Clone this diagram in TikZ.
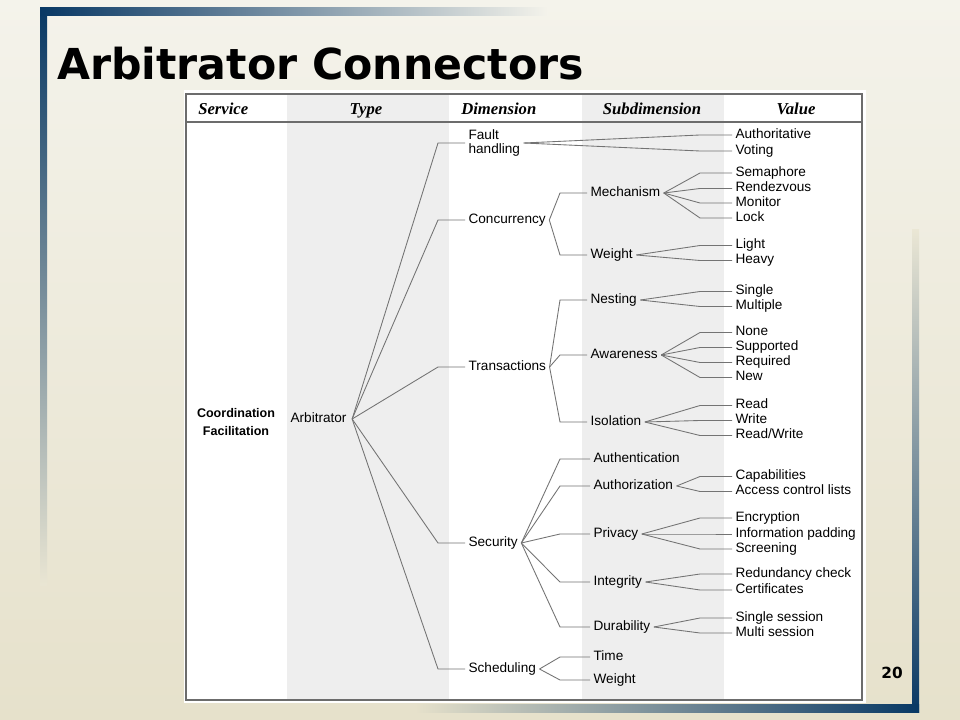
\documentclass[tikz,border=0pt]{standalone}
\usepackage{fontspec}
\setmainfont{Liberation Sans}
\newfontfamily\headfont{Liberation Serif}
\newfontfamily\titlefont{DejaVu Sans}
\usepackage{tikz}
\usetikzlibrary{calc}
\usepackage{xcolor}
\definecolor{bgtop}{RGB}{244,243,235}
\definecolor{bgbot}{RGB}{230,225,203}
\definecolor{navy}{RGB}{8,56,100}
\definecolor{colgray}{RGB}{238,238,238}
\definecolor{linegray}{RGB}{115,115,115}

\begin{document}
\begin{tikzpicture}[x=0.75pt, y=-0.75pt]
        % ================= styles =================
        \tikzset{
            % plain label of the tree
            any_text/.style={inner xsep=2.5pt, inner ysep=1pt, text height=7.4pt, text depth=2.2pt, font=\fontsize{10.2}{10.5}\selectfont},
            dnode/.style={any_text, anchor=west},
            % two line label (Fault handling)
            twoline/.style={inner xsep=2.5pt, inner ysep=1pt, align=left, anchor=west, font=\fontsize{10.2}{10.5}\selectfont},
            % column headers
            head_text/.style={inner sep=0pt, font=\headfont\bfseries\itshape\fontsize{12.5}{14}\selectfont},
            % connectors and table rules
            tree_edge/.style={draw=linegray, line width=0.65pt},
            table_line/.style={draw=gray!85!black, line width=0.8pt}
        }

        % ================= background and frame =================
        \useasboundingbox (0,0) rectangle (960,720);
        \shade[top color=bgtop, bottom color=bgbot] (0,0) rectangle (960,720);
        \shade[top color=navy, bottom color=bgbot!75!bgtop] (40,8) rectangle (47,585);
        \shade[left color=navy, right color=bgtop] (40,8) rectangle (548,16);
        \shade[top color=bgtop!30!bgbot, bottom color=navy] (912,230) rectangle (919,712);
        \shade[left color=bgbot, right color=navy] (415,704) rectangle (919,712);

        % title and page number
        \node[anchor=base west, inner sep=0pt, font=\titlefont\bfseries\fontsize{32}{34}\selectfont] (title) at (57,80) {Arbitrator Connectors};
        \node[anchor=base, inner sep=0pt, font=\titlefont\bfseries\fontsize{11.5}{12}\selectfont] (pagenum) at (892,678) {20};

        % ================= table =================
        \fill[white] (184,90) rectangle (866,703);
        \fill[colgray] (287,94) rectangle (449,700);
        \fill[colgray] (582,94) rectangle (724,700);
        \draw[table_line] (186,94) rectangle (862,700);
        \draw[table_line] (186,122) -- (862,122);

        \node[head_text, anchor=base west] (h_service) at (198,115) {Service};
        \node[head_text, anchor=base] (h_type) at (366,115) {Type};
        \node[head_text, anchor=base west] (h_dim) at (461,115) {Dimension};
        \node[head_text, anchor=base] (h_subdim) at (652,115) {Subdimension};
        \node[head_text, anchor=base] (h_value) at (796,115) {Value};

        % ================= nodes =================
        \node[align=center, inner sep=0pt, font=\bfseries\fontsize{9.4}{13.5}\selectfont] (service) at (236,422) {Coordination\\Facilitation};
        \node[dnode, inner xsep=4pt] (arb) at (285,419) {Arbitrator};

        % dimension
        \node[twoline] (fault) at (465,143) {Fault\\handling};
        \node[dnode] (conc) at (465,220) {Concurrency};
        \node[dnode] (trans) at (465,367) {Transactions};
        \node[dnode] (sec) at (465,543) {Security};
        \node[dnode] (sched) at (465,669) {Scheduling};

        % subdimension
        \node[dnode] (mech) at (587,193) {Mechanism};
        \node[dnode] (cweight) at (587,255) {Weight};
        \node[dnode] (nest) at (587,300) {Nesting};
        \node[dnode] (aware) at (587,355) {Awareness};
        \node[dnode] (isol) at (587,422) {Isolation};
        \node[dnode] (authn) at (590,459) {Authentication};
        \node[dnode] (authz) at (590,486) {Authorization};
        \node[dnode] (priv) at (590,534) {Privacy};
        \node[dnode] (integ) at (590,582) {Integrity};
        \node[dnode] (dura) at (590,627) {Durability};
        \node[dnode] (time) at (590,657) {Time};
        \node[dnode] (sweight) at (590,680) {Weight};

        % value
        \node[dnode] (auth) at (732,135) {Authoritative};
        \node[dnode] (vote) at (732,151) {Voting};
        \node[dnode] (sema) at (732,173) {Semaphore};
        \node[dnode] (rend) at (732,188.5) {Rendezvous};
        \node[dnode] (moni) at (732,203) {Monitor};
        \node[dnode] (lock) at (732,218) {Lock};
        \node[dnode] (light) at (732,245.5) {Light};
        \node[dnode] (heavy) at (732,260.5) {Heavy};
        \node[dnode] (single) at (732,291.5) {Single};
        \node[dnode] (multi) at (732,306.5) {Multiple};
        \node[dnode] (none) at (732,332.5) {None};
        \node[dnode] (supp) at (732,347.5) {Supported};
        \node[dnode] (requ) at (732,362.5) {Required};
        \node[dnode] (new) at (732,377.5) {New};
        \node[dnode] (read) at (732,405.5) {Read};
        \node[dnode] (write) at (732,420.5) {Write};
        \node[dnode] (rw) at (732,435.5) {Read/Write};
        \node[dnode] (capa) at (732,476.5) {Capabilities};
        \node[dnode] (acl) at (732,491.5) {Access control lists};
        \node[dnode] (encr) at (732,518) {Encryption};
        \node[dnode] (info) at (732,534) {Information padding};
        \node[dnode] (scre) at (732,549) {Screening};
        \node[dnode] (redu) at (732,574) {Redundancy check};
        \node[dnode] (cert) at (732,590) {Certificates};
        \node[dnode] (ssess) at (732,618) {Single session};
        \node[dnode] (msess) at (732,633) {Multi session};

        % ================= connectors =================
        \coordinate (col1) at (438,0);
        \coordinate (col2) at (560,0);
        \coordinate (col3) at (700,0);

        \foreach \d in {fault,conc,trans,sec,sched}
            \draw[tree_edge] (arb.east) -- (col1 |- \d.west) -- (\d.west);

        \foreach \p/\kids in {conc/{mech,cweight}, trans/{nest,aware,isol}, sec/{authn,authz,priv,integ,dura}, sched/{time,sweight}}
            \foreach \k in \kids
                \draw[tree_edge] (\p.east) -- (col2 |- \k.west) -- (\k.west);

        \foreach \p/\kids in {fault/{auth,vote}, mech/{sema,rend,moni,lock}, cweight/{light,heavy}, nest/{single,multi}, aware/{none,supp,requ,new}, isol/{read,write,rw}, authz/{capa,acl}, priv/{encr,info,scre}, integ/{redu,cert}, dura/{ssess,msess}}
            \foreach \k in \kids
                \draw[tree_edge] (\p.east) -- (col3 |- \k.west) -- (\k.west);

    \end{tikzpicture}
\end{document}
